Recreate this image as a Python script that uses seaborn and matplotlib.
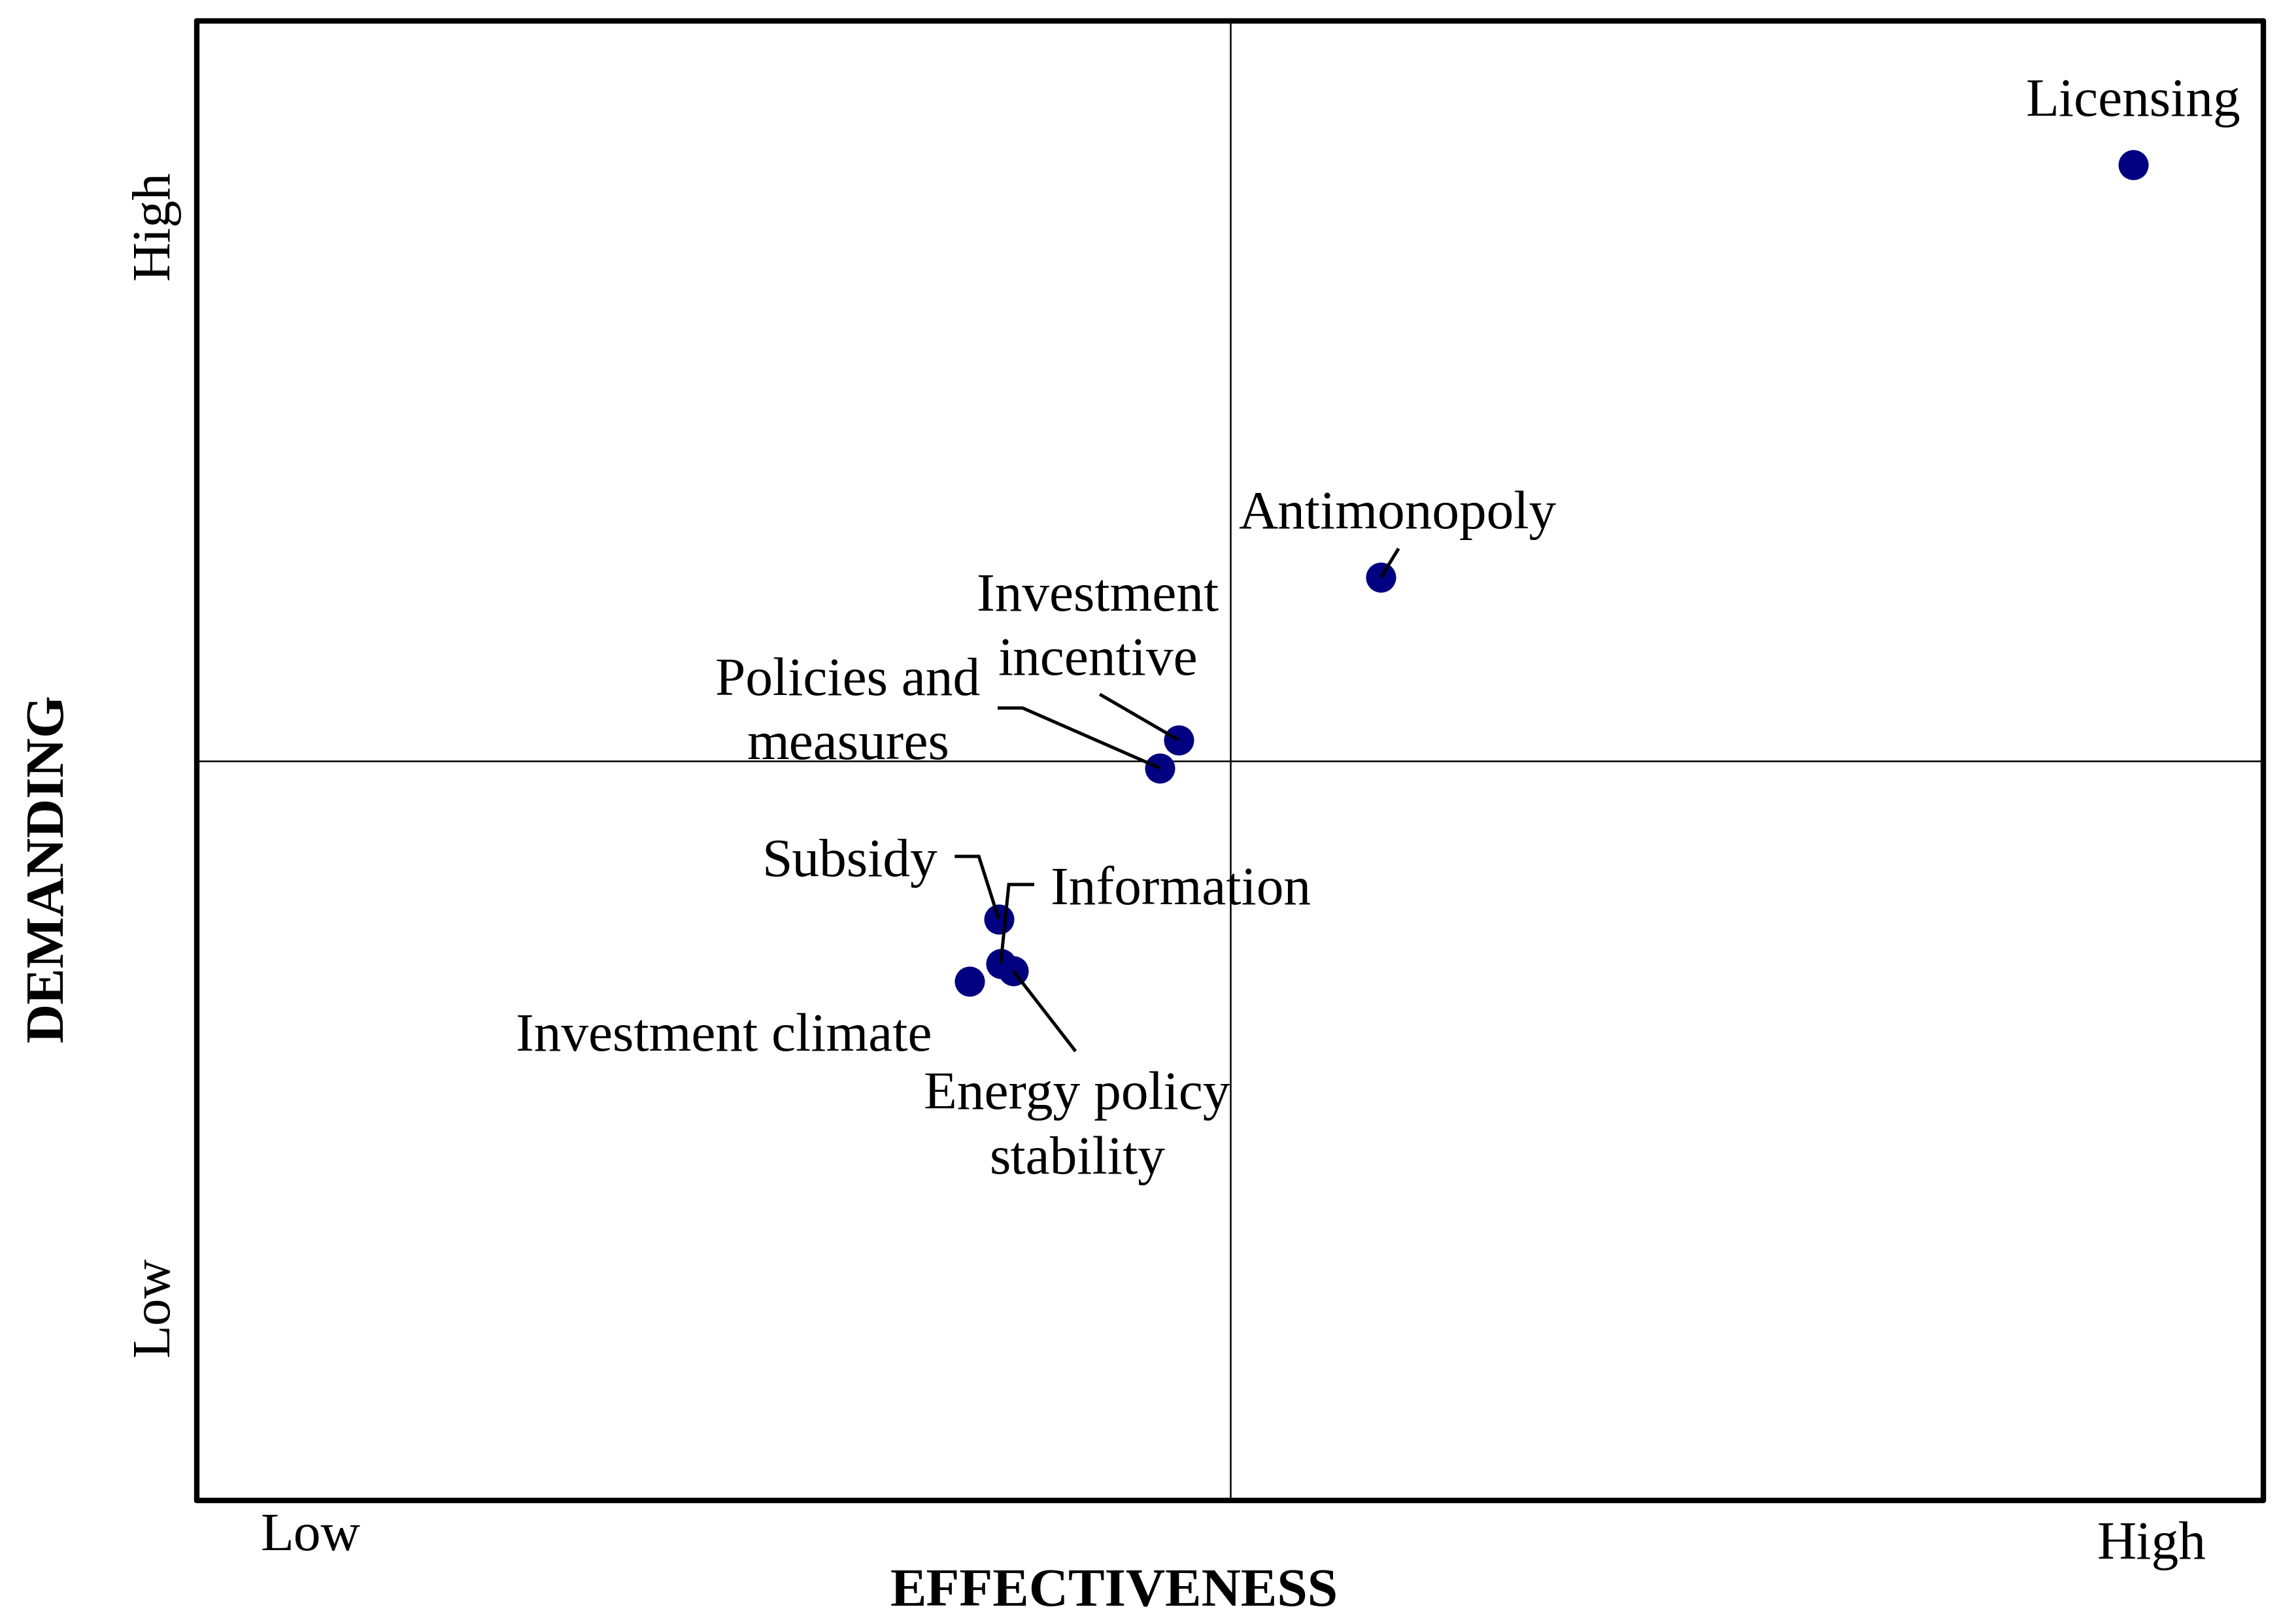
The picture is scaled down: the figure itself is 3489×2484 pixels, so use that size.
import numpy as np
import pandas as pd
import matplotlib.pyplot as plt
import seaborn as sns

# ---------------------------------------------------------------
# Quadrant data: effectiveness vs demanding (0-10 scale, 5 = split)
# ---------------------------------------------------------------
instruments = ['Licensing', 'Antimonopoly', 'Investment\nincentive',
               'Policies and\nmeasures', 'Subsidy', 'Information',
               'Energy policy\nstability', 'Investment climate']
effectiveness = [9.37, 5.73, 4.75, 4.66, 3.88, 3.89, 3.95, 3.74]
demanding = [9.03, 6.24, 5.14, 4.95, 3.93, 3.63, 3.58, 3.51]

x_levels = ['Low', 'High']
y_levels = ['Low', 'High']

# label anchors (baseline of last line) and leader-line bends
label_pos = {
    'Licensing': (9.37, 9.36),
    'Antimonopoly': (5.81, 6.57),
    'Investment\nincentive': (4.36, 5.58),
    'Policies and\nmeasures': (3.15, 5.01),
    'Subsidy': (3.16, 4.22),
    'Information': (4.76, 4.03),
    'Energy policy\nstability': (4.26, 2.21),
    'Investment climate': (2.55, 3.04),
}
leaders = {
    'Antimonopoly': [(5.815, 6.434)],
    'Investment\nincentive': [(4.369, 5.449)],
    'Policies and\nmeasures': [(3.875, 5.356), (3.996, 5.356)],
    'Subsidy': [(3.667, 4.353), (3.784, 4.353)],
    'Information': [(4.052, 4.163), (3.929, 4.163)],
    'Energy policy\nstability': [(4.252, 3.036)],
}

df = pd.DataFrame({'instrument': instruments,
                   'effectiveness': effectiveness,
                   'demanding': demanding})

sns.set_theme(style='white')
plt.rcParams['font.family'] = ['Liberation Serif', 'DejaVu Serif']
plt.rcParams['text.color'] = 'black'
plt.rcParams['axes.labelcolor'] = 'black'

fig = plt.figure(figsize=(3489 / 300, 2484 / 300), dpi=300)
ax = fig.add_axes([0.0863, 0.0761, 0.9060, 0.9110])

sns.scatterplot(data=df, x='effectiveness', y='demanding', color='#000080',
                s=122, linewidth=0, ax=ax, zorder=3, legend=False)

ax.axvline(5, color='black', lw=0.6, zorder=1)
ax.axhline(5, color='black', lw=0.6, zorder=1)

for _, row in df.iterrows():
    name = row['instrument']
    tx, ty = label_pos[name]
    ax.text(tx, ty, name, ha='center', va='baseline', fontsize=20,
            linespacing=1.4, color='black', zorder=5)
    if name in leaders:
        path = leaders[name] + [(row['effectiveness'], row['demanding'])]
        xs, ys = zip(*path)
        ax.plot(xs, ys, color='black', lw=1.2, solid_capstyle='butt',
                solid_joinstyle='miter', zorder=4)

ax.set_xlim(0, 10)
ax.set_ylim(0, 10)

ax.set_xticks([0.55, 9.46], x_levels)
ax.set_yticks([1.31, 8.62], y_levels)
ax.tick_params(axis='both', length=0, labelsize=20, colors='black')
ax.tick_params(axis='x', pad=4.5)
ax.tick_params(axis='y', pad=6, labelrotation=90)
for lab in ax.get_yticklabels():
    lab.set_va('center')
ax.xaxis.get_major_ticks()[1].set_pad(7.5)

ax.set_xlabel('EFFECTIVENESS', fontsize=20, fontweight='bold', color='black')
ax.set_ylabel('DEMANDING', fontsize=20, fontweight='bold', color='black')
ax.xaxis.label.set_va('baseline')
ax.yaxis.label.set_va('baseline')
ax.xaxis.set_label_coords(0.4438, -0.0716)
ax.yaxis.set_label_coords(-0.0652, 0.4273)

for side in ['left', 'right', 'top', 'bottom']:
    ax.spines[side].set_linewidth(2.0)
    ax.spines[side].set_color('black')
    ax.spines[side].set_joinstyle('round')
    ax.spines[side].set_capstyle('round')

fig.savefig('out.png', dpi=300, facecolor='white')
